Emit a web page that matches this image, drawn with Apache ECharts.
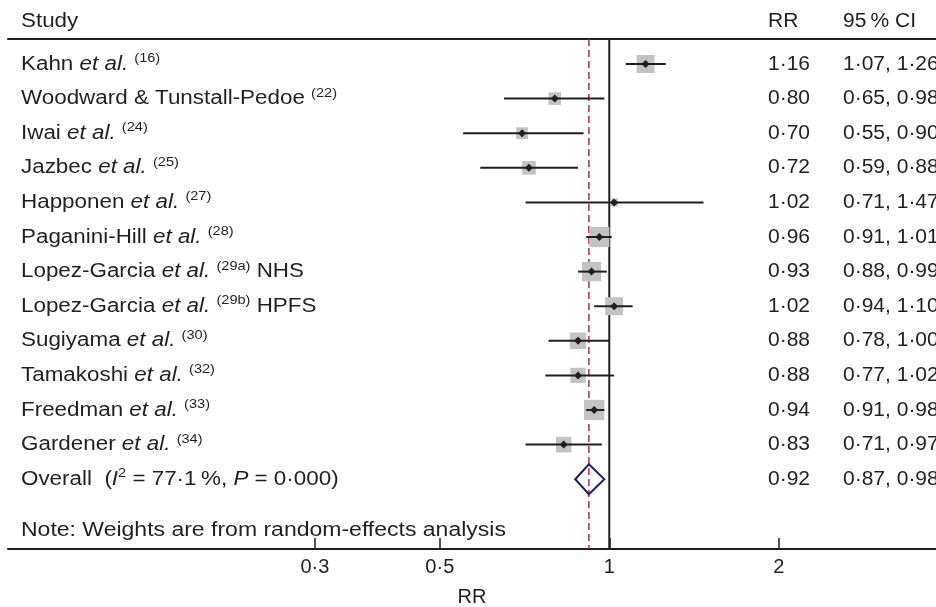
<!DOCTYPE html>
<html>
<head>
<meta charset="utf-8">
<script src="https://cdn.jsdelivr.net/npm/echarts@6/dist/echarts.min.js"></script>
<style>
  html, body { margin: 0; padding: 0; background: #fff; }
  #chart { width: 936px; height: 607px; }
</style>
</head>
<body>
<div id="chart"></div>
<script>
// study data
const studyAuthors = ['Kahn', 'Woodward & Tunstall-Pedoe', 'Iwai', 'Jazbec', 'Happonen', 'Paganini-Hill',
  'Lopez-Garcia', 'Lopez-Garcia', 'Sugiyama', 'Tamakoshi', 'Freedman', 'Gardener']
const studyEtAl = [true, false, true, true, true, true, true, true, true, true, true, true]
const studyRefs = ['16', '22', '24', '25', '27', '28', '29a', '29b', '30', '32', '33', '34']
const studySuffix = ['', '', '', '', '', '', ' NHS', ' HPFS', '', '', '', '']
const rr = [1.16, 0.80, 0.70, 0.72, 1.02, 0.96, 0.93, 1.02, 0.88, 0.88, 0.94, 0.83]
const ciLow = [1.07, 0.65, 0.55, 0.59, 0.71, 0.91, 0.88, 0.94, 0.78, 0.77, 0.91, 0.71]
const ciHigh = [1.26, 0.98, 0.90, 0.88, 1.47, 1.01, 0.99, 1.10, 1.00, 1.02, 0.98, 0.97]
const weights = [10.3, 5.1, 4.4, 6.0, 2.0, 13.1, 11.8, 10.3, 8.8, 7.4, 13.1, 7.8]

const overallRR = 0.92
const overallLow = 0.87
const overallHigh = 0.98
const overallI2 = '77·1'
const overallP = '0·000'

const tickValues = [0.3, 0.5, 1, 2]
const tickLabels = ['0·3', '0·5', '1', '2']

const ink = '#231f20'
const FONT = '"Liberation Sans", Arial, Helvetica, sans-serif'
const lg = v => Math.log10(v)
const fmt = v => v.toFixed(2).replace('.', '\u00b7')

const baseStyle = { fontSize: 20, fontFamily: FONT, fontStyle: 'normal', fill: ink, lineHeight: 24 }
const rich = {
  it: { fontSize: 20, fontFamily: FONT, fontStyle: 'italic', fill: ink, lineHeight: 24 },
  sup: { fontSize: 13, fontFamily: FONT, fill: ink, lineHeight: 10, verticalAlign: 'top' },
  sq: { fontSize: 13, fontFamily: FONT, fill: ink, lineHeight: 14, verticalAlign: 'top' }
}
const textEl = (x, y, text, sx) => ({
  type: 'text', x: x, y: y, scaleX: sx,
  style: Object.assign({}, baseStyle, { text: text, align: 'left', verticalAlign: 'middle', rich: rich })
})

const studyLabel = i => studyAuthors[i] + (studyEtAl[i] ? ' {it|et al.}' : '') +
  ' {sup|(' + studyRefs[i] + ')}' + studySuffix[i]
const overallLabel = 'Overall\u00a0\u00a0({it|I}{sq|2} = ' + overallI2 + '\u2009%, {it|P} = ' + overallP + ')'

const rowLabels = studyAuthors.map((a, i) => studyLabel(i)).concat([overallLabel])
const rowRR = rr.concat([overallRR])
const rowLow = ciLow.concat([overallLow])
const rowHigh = ciHigh.concat([overallHigh])

const chart = echarts.init(document.getElementById('chart'))

const option = {
  animation: false,
  backgroundColor: '#fff',
  grid: { left: 8, right: 0, top: 39, bottom: 58, containLabel: false, outerBoundsMode: 'none' },
  xAxis: [{
    type: 'value',
    min: -1.068,
    max: 0.5803,
    position: 'bottom',
    axisLine: { onZero: false, lineStyle: { color: ink, width: 2 } },
    axisTick: { inside: true, length: 11, lineStyle: { color: ink, width: 1.5 }, customValues: tickValues.map(lg) },
    axisLabel: {
      customValues: tickValues.map(lg),
      color: ink, fontSize: 20, fontFamily: FONT, margin: 8,
      formatter(value) {
        const k = tickValues.findIndex(t => Math.abs(lg(t) - value) < 1e-6)
        return k >= 0 ? tickLabels[k] : ''
      }
    },
    splitLine: { show: false },
    name: 'RR',
    nameLocation: 'middle',
    nameGap: 38,
    nameTextStyle: { color: ink, fontSize: 20, fontFamily: FONT }
  }, {
    type: 'value',
    min: -1.068,
    max: 0.5803,
    position: 'top',
    axisLine: { onZero: false, lineStyle: { color: ink, width: 2 } },
    axisTick: { show: false },
    axisLabel: { show: false },
    splitLine: { show: false }
  }],
  yAxis: { type: 'value', inverse: true, min: -0.7225, max: 14.017, show: false },
  graphic: [
    textEl(21, 21.5, 'Study', 1.12),
    textEl(768, 21.5, 'RR', 1.05),
    textEl(843, 21.5, '95\u2009% CI', 1.05),
    textEl(21, 530, 'Note: Weights are from random-effects analysis', 1.15)
  ],
  series: [
    {
      // null line and pooled estimate line
      type: 'custom',
      z: 1,
      data: [[lg(1), 0], [lg(overallRR), 1]],
      renderItem(params, api) {
        const cs = params.coordSys
        const x = api.coord([api.value(0), 0])[0]
        const dashed = api.value(1) === 1
        return {
          type: 'line',
          shape: { x1: x, y1: cs.y, x2: x, y2: cs.y + cs.height },
          style: dashed
            ? { stroke: '#a8323e', lineWidth: 1.5, lineDash: [7, 4] }
            : { stroke: ink, lineWidth: 2 }
        }
      }
    },
    {
      // study estimates
      type: 'custom',
      z: 3,
      data: rr.map((v, i) => [lg(v), lg(ciLow[i]), lg(ciHigh[i]), weights[i], i]),
      renderItem(params, api) {
        const row = api.value(4)
        const c = api.coord([api.value(0), row])
        const l = api.coord([api.value(1), row])
        const h = api.coord([api.value(2), row])
        const s = Math.sqrt(api.value(3)) * 5.6
        return {
          type: 'group',
          children: [
            { type: 'rect', shape: { x: c[0] - s / 2, y: c[1] - s / 2, width: s, height: s }, style: { fill: '#c3c3c3' } },
            { type: 'line', shape: { x1: l[0], y1: l[1], x2: h[0], y2: h[1] }, style: { stroke: ink, lineWidth: 2 } },
            {
              type: 'polygon',
              shape: { points: [[c[0] - 4, c[1]], [c[0], c[1] - 4], [c[0] + 4, c[1]], [c[0], c[1] + 4]] },
              style: { fill: ink }
            }
          ]
        }
      }
    },
    {
      // pooled diamond
      type: 'custom',
      z: 3,
      data: [[lg(overallRR), lg(overallLow), lg(overallHigh), rr.length]],
      renderItem(params, api) {
        const row = api.value(3)
        const c = api.coord([api.value(0), row])
        const l = api.coord([api.value(1), row])
        const h = api.coord([api.value(2), row])
        return {
          type: 'polygon',
          shape: { points: [[l[0], c[1]], [c[0], c[1] - 15], [h[0], c[1]], [c[0], c[1] + 15]] },
          style: { fill: 'none', stroke: '#1f1f6b', lineWidth: 2 }
        }
      }
    },
    {
      // row texts
      type: 'custom',
      z: 3,
      data: rowRR.map((v, i) => [0, i]),
      renderItem(params, api) {
        const i = api.value(1)
        const y = api.coord([0, i])[1]
        return {
          type: 'group',
          children: [
            textEl(21, y, rowLabels[i], 1.12),
            textEl(768, y, fmt(rowRR[i]), 1.05),
            textEl(843, y, fmt(rowLow[i]) + ', ' + fmt(rowHigh[i]), 1.05)
          ]
        }
      }
    }
  ]
}

chart.setOption(option)
</script>
</body>
</html>
